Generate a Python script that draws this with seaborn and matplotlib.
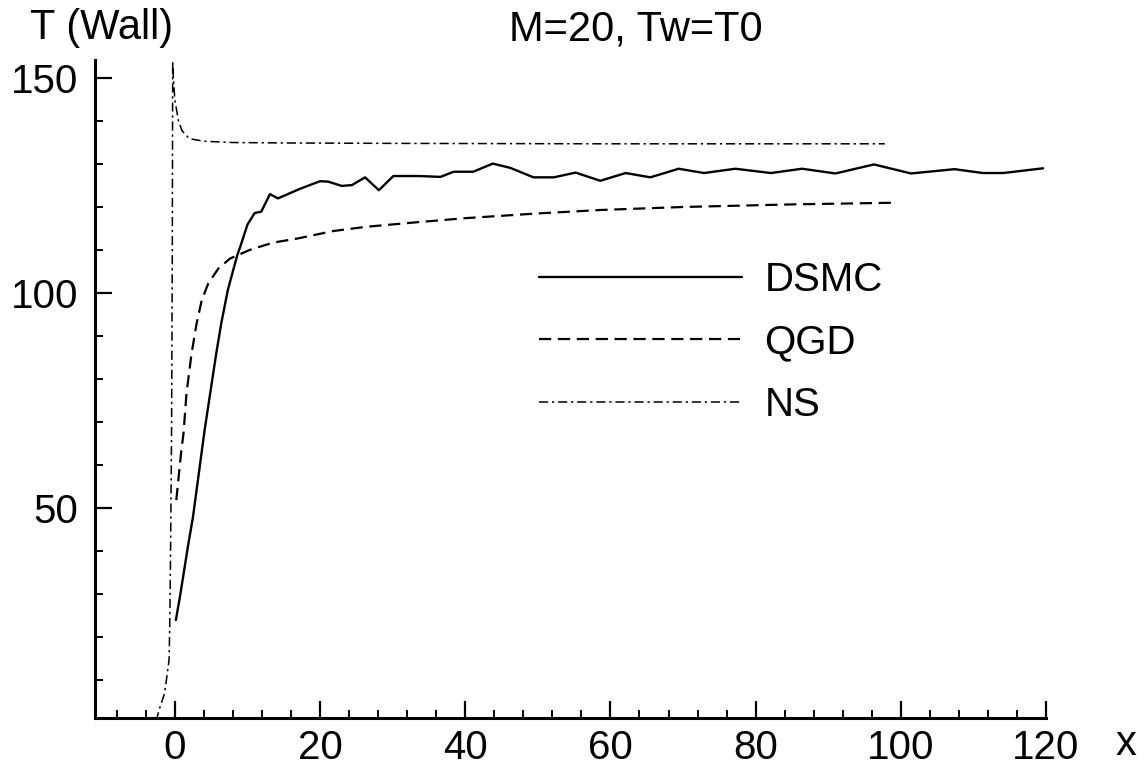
import numpy as np
import pandas as pd
import matplotlib
matplotlib.use("Agg")
import matplotlib.pyplot as plt
from matplotlib.ticker import MultipleLocator
import seaborn as sns

# ---- data ----
dsmc_x = [0.14, 0.7, 1.8, 2.5, 4.1, 5.7, 6.4, 7.3, 8.6, 9.0, 10.0, 11.0, 11.9, 13.1, 14.2,
          17.2, 20.0, 21.1, 23.0, 24.4, 26.2, 28.1, 30.1, 33.7, 36.6, 38.4, 41.1, 43.8,
          46.2, 49.4, 52.2, 55.2, 58.6, 62.1, 65.5, 69.4, 72.9, 77.2, 82.1, 86.4, 91.0,
          96.3, 101.4, 107.4, 111.3, 114.1, 119.6]
dsmc_y = [24.0, 29.4, 41.1, 48.0, 68.2, 86.0, 93.1, 100.8, 108.9, 110.8, 116.0, 118.7,
          119.0, 123.1, 122.1, 124.3, 126.1, 126.0, 125.0, 125.2, 127.0, 124.0, 127.3,
          127.3, 127.1, 128.3, 128.3, 130.2, 129.2, 127.0, 127.0, 128.1, 126.2, 128.0,
          127.0, 129.0, 128.0, 129.0, 128.0, 129.0, 127.9, 130.0, 127.9, 128.9, 128.0,
          128.0, 129.1]

qgd_x = [0.2, 0.9, 1.2, 1.6, 2.3, 3.0, 3.7, 4.6, 6.0, 7.6, 10.3, 13.5, 17.0, 21.8, 26.4,
         33.0, 40.0, 50.0, 58.6, 70.0, 85.0, 99.5]
qgd_y = [51.9, 63.6, 67.5, 76.7, 86.0, 93.0, 98.4, 102.3, 105.8, 108.1, 110.1, 111.8,
         112.8, 114.5, 115.5, 116.5, 117.5, 118.6, 119.4, 120.1, 120.7, 121.1]

ns_x = [-2.6, -2.0, -1.4, -0.8, -0.7, -0.6, -0.45, -0.35, -0.3, -0.2, 0.0, 0.5, 1.0, 2.0,
        4.0, 8.0, 15.0, 30.0, 60.0, 97.8]
ns_y = [0.5, 4.0, 7.0, 14.7, 23.2, 38.0, 68.8, 110.0, 154.0, 150.0, 145.0, 140.1, 137.8,
        136.0, 135.4, 135.1, 135.0, 134.9, 134.8, 134.8]

series_names = ["DSMC", "QGD", "NS"]
title_text = "M=20, Tw=T0"
ylabel_text = "T (Wall)"
xlabel_text = "x"
x_major = [0, 20, 40, 60, 80, 100, 120]
y_major = [50, 100, 150]

# ---- style ----
sns.set_theme(style="ticks")
plt.rcParams["font.family"] = ["Liberation Sans", "DejaVu Sans"]
plt.rcParams["axes.linewidth"] = 2.2
plt.rcParams["text.color"] = "black"
plt.rcParams["axes.labelcolor"] = "black"
plt.rcParams["xtick.color"] = "black"
plt.rcParams["ytick.color"] = "black"
plt.rcParams["axes.edgecolor"] = "black"

fig = plt.figure(figsize=(11.47, 7.69), dpi=100)
ax = fig.add_axes([95 / 1147, 1 - 718 / 769, (1046 - 95) / 1147, (718 - 60) / 769])

df_d = pd.DataFrame({"x": dsmc_x, "y": dsmc_y})
df_q = pd.DataFrame({"x": qgd_x, "y": qgd_y})
df_n = pd.DataFrame({"x": ns_x, "y": ns_y})

sns.lineplot(data=df_d, x="x", y="y", ax=ax, color="black", linewidth=1.7,
             sort=False, estimator=None, label=series_names[0])
sns.lineplot(data=df_q, x="x", y="y", ax=ax, color="black", linewidth=1.6,
             linestyle=(0, (5.5, 3.0)), sort=False, estimator=None, label=series_names[1])
sns.lineplot(data=df_n, x="x", y="y", ax=ax, color="black", linewidth=1.1,
             linestyle=(0, (6, 2.5, 1.5, 2.5)), sort=False, estimator=None,
             label=series_names[2])

ax.set_xlim(-11.0, 120)
ax.set_ylim(1.2, 154.3)
ax.set_xticks(x_major)
ax.set_yticks(y_major)
ax.xaxis.set_minor_locator(MultipleLocator(4))
ax.yaxis.set_minor_locator(MultipleLocator(10))
ax.tick_params(axis="both", which="major", direction="in", length=12, width=1.6,
               labelsize=29, colors="black", labelcolor="black")
ax.tick_params(axis="x", which="major", pad=8)
ax.tick_params(axis="y", which="major", pad=12)
ax.tick_params(axis="both", which="minor", direction="in", length=6, width=1.4,
               colors="black")
for s in ["top", "right"]:
    ax.spines[s].set_visible(False)
for s in ["left", "bottom"]:
    ax.spines[s].set_color("black")
ax.set_xlabel("")
ax.set_ylabel("")

fig.text(30 / 1147, 1 - 28 / 769, ylabel_text, fontsize=30, ha="left", va="center",
         color="black")
fig.text(636 / 1147, 1 - 29 / 769, title_text, fontsize=30, ha="center", va="center",
         color="black")
fig.text(1126 / 1147, 1 - 744 / 769, xlabel_text, fontsize=30, ha="center", va="center",
         color="black")

leg = ax.legend(loc="upper left", bbox_to_anchor=(0.467, 0.695), frameon=False,
                fontsize=29, handlelength=5.04, handletextpad=0.55, labelspacing=0.61,
                borderpad=0, borderaxespad=0)
for h in leg.get_lines():
    h.set_color("black")
for t in leg.get_texts():
    t.set_color("black")

fig.savefig("out.png", dpi=100, facecolor="white")
